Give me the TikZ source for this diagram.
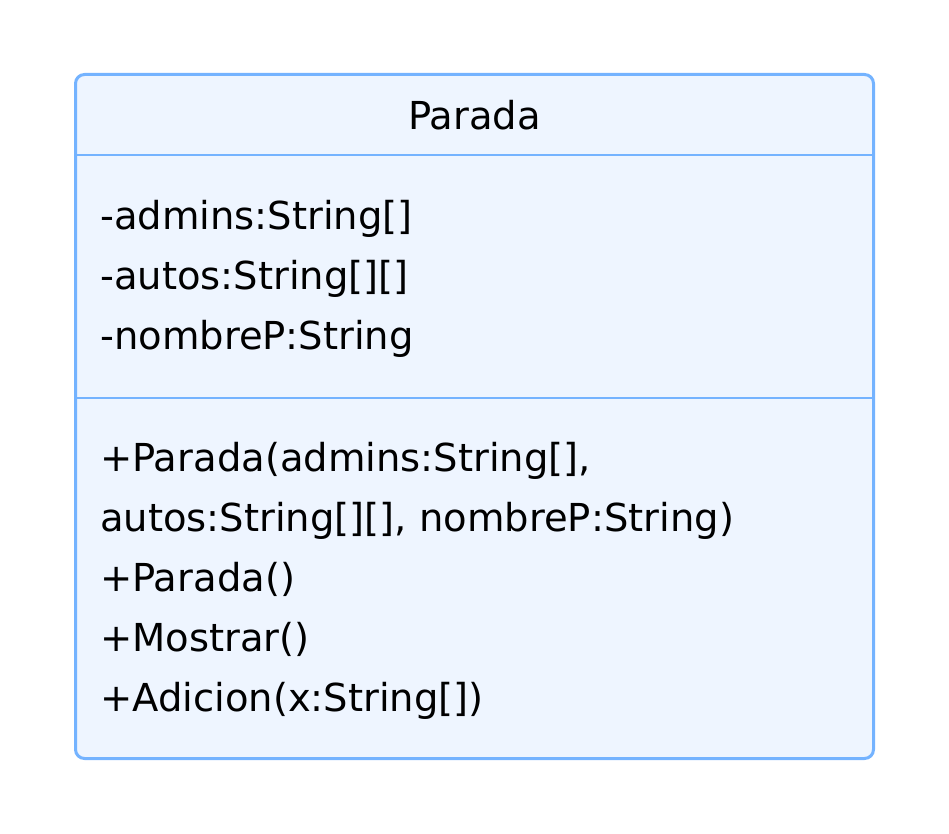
\documentclass[tikz,border=0pt]{standalone}
\usepackage{fontspec}
\setmainfont{DejaVu Sans}
\usepackage{xcolor}
\usepackage{tikz}
\usetikzlibrary{positioning}
\definecolor{BoxBlue}{HTML}{74B3FF}
\definecolor{BoxFill}{HTML}{EEF5FF}

\begin{document}
\begin{tikzpicture}[
  x=1pt,y=-1pt,
  classbox/.style={draw=BoxBlue,fill=BoxFill,line width=3pt,rounded corners=9pt},
  divider/.style={draw=BoxBlue,line width=2pt},
  member/.style={anchor=base west,inner sep=0pt,font=\fontsize{38.5}{44}\selectfont},
  title/.style={anchor=base,inner sep=0pt,font=\fontsize{38.5}{44}\selectfont}
]
\useasboundingbox (0,0) rectangle (949,834);
% class box
\draw[classbox] (75.5,74.5) rectangle (873.5,758.5);
\coordinate (d1w) at (77,155.5);
\coordinate (d1e) at (872,155.5);
\coordinate (d2w) at (77,397.5);
\coordinate (d2e) at (872,397.5);
\draw[divider] (d1w) -- (d1e);
\draw[divider] (d2w) -- (d2e);
% name
\node[title] (name) at (474.5,129.5) {Parada};
% attributes
\node[member] (admins) at (100,229.5) {-admins:String[]};
\node[member] (autos) at (100,289.5) {-autos:String[][]};
\node[member] (nombre) at (100,349.5) {-nombreP:String};
% operations
\node[member] (ctorA) at (100,471.5) {+Parada(admins:String[],};
\node[member] (ctorB) at (100,531.5) {autos:String[][], nombreP:String)};
\node[member] (ctor) at (100,591.5) {+Parada()};
\node[member] (mostrar) at (100,651.5) {+Mostrar()};
\node[member] (adicion) at (100,711.5) {+Adicion(x:String[])};
\end{tikzpicture}
\end{document}
